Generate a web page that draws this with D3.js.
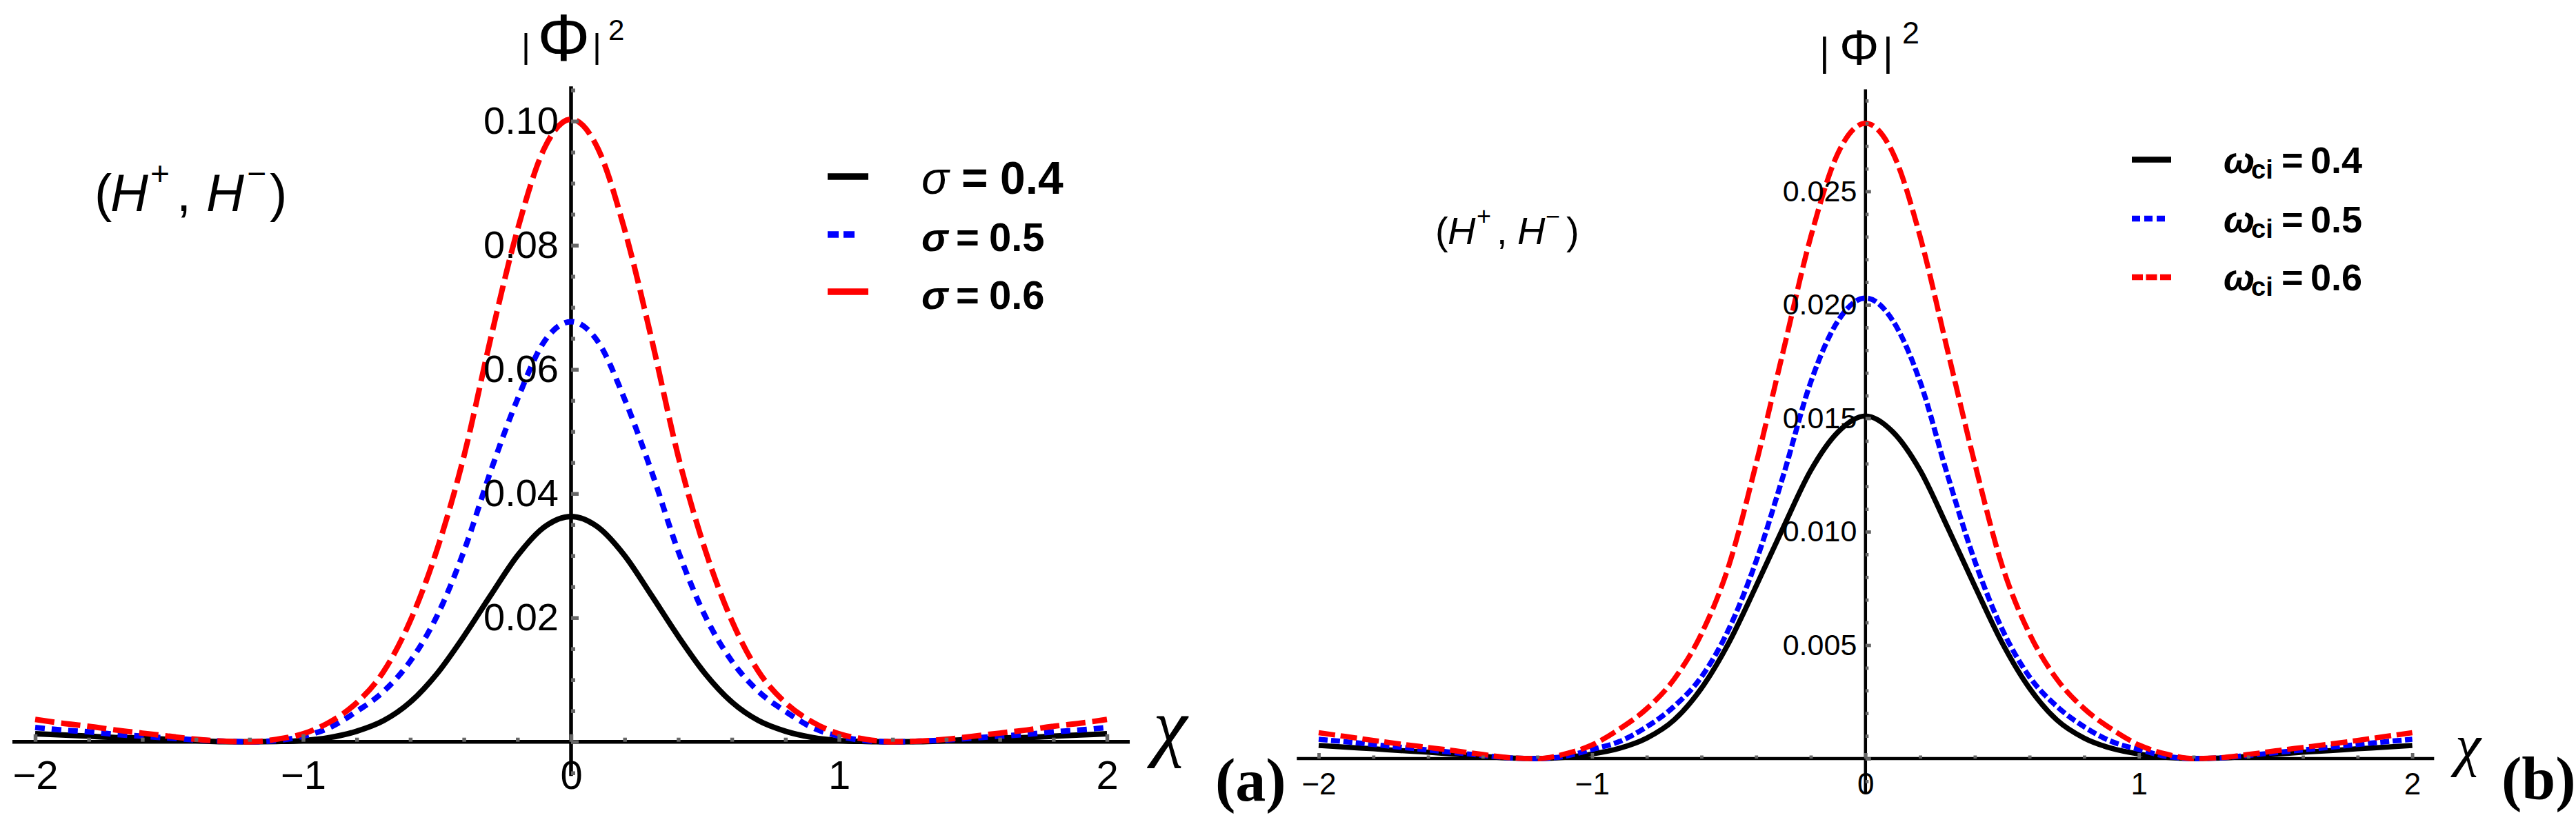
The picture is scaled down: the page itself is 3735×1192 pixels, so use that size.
<!DOCTYPE html>
<html><head><meta charset="utf-8">
<script src="https://cdnjs.cloudflare.com/ajax/libs/d3/7.8.5/d3.min.js"></script>
<style>
html,body{margin:0;padding:0;background:#fff;}
svg{display:block;}
</style></head>
<body><svg id="chart" width="3735" height="1192"></svg>
<script>
// ---------- data ----------
const xGrid = [-2.0,-1.9,-1.8,-1.7,-1.6,-1.5,-1.4,-1.3,-1.2,-1.1,-1.0,-0.9,-0.8,-0.7,-0.6,-0.5,-0.4,-0.3,-0.2,-0.1,0,
               0.1,0.2,0.3,0.4,0.5,0.6,0.7,0.8,0.9,1.0,1.1,1.2,1.3,1.4,1.5,1.6,1.7,1.8,1.9,2.0];

// panel (a): sigma series
const sigmaLabels = ["0.4","0.5","0.6"];
const sigma04 = [0.0013,0.0011,0.0009,0.0007,0.0006,0.0004,0.0002,0.00003,0.0000,0.00005,0.0002,0.0007,0.0017,0.0034,0.0064,0.0110,0.0170,0.0236,0.0300,0.0346,0.0363,
                 0.0346,0.0300,0.0236,0.0170,0.0110,0.0064,0.0034,0.0017,0.0007,0.0002,0.00005,0.0000,0.00003,0.0002,0.0004,0.0006,0.0007,0.0009,0.0011,0.0013];
const sigma05 = [0.0023,0.0019,0.0016,0.0012,0.0009,0.0006,0.0003,0.0001,0.0000,0.0002,0.0009,0.0023,0.0049,0.0081,0.0130,0.0203,0.0307,0.0436,0.0552,0.0645,0.0677,
                 0.0645,0.0552,0.0436,0.0307,0.0203,0.0130,0.0081,0.0049,0.0023,0.0009,0.0002,0.0000,0.0001,0.0003,0.0006,0.0009,0.0012,0.0016,0.0019,0.0023];
const sigma06 = [0.0036,0.0030,0.0025,0.0019,0.0014,0.0009,0.0004,0.0001,0.0000,0.0004,0.0013,0.0032,0.0063,0.0113,0.0195,0.0310,0.0460,0.0650,0.0825,0.0956,0.1003,
                 0.0956,0.0825,0.0650,0.0460,0.0310,0.0195,0.0113,0.0063,0.0032,0.0013,0.0004,0.0000,0.0001,0.0004,0.0009,0.0014,0.0019,0.0025,0.0030,0.0036];

// panel (b): omega_ci series
const omegaLabels = ["0.4","0.5","0.6"];
const omega04 = [0.00058,0.00050,0.00043,0.00035,0.00028,0.00019,0.00010,0.00002,0.0000,0.00005,0.0002,0.00045,0.0009,0.0017,0.0031,0.0051,0.0076,0.0102,0.0127,0.0144,0.0151,
                 0.0144,0.0127,0.0102,0.0076,0.0051,0.0031,0.0017,0.0009,0.00045,0.0002,0.00005,0.0000,0.00002,0.00010,0.00019,0.00028,0.00035,0.00043,0.00050,0.00058];
const omega05 = [0.00085,0.00074,0.00062,0.00050,0.00038,0.00026,0.00014,0.00003,0.0000,0.0001,0.0004,0.00075,0.0014,0.0023,0.0036,0.0057,0.0087,0.0125,0.0166,0.0193,0.0203,
                 0.0193,0.0166,0.0125,0.0087,0.0057,0.0036,0.0023,0.0014,0.00075,0.0004,0.0001,0.0000,0.00003,0.00014,0.00026,0.00038,0.00050,0.00062,0.00074,0.00085];
const omega06 = [0.00114,0.00097,0.00080,0.00064,0.00049,0.00034,0.00018,0.00004,0.0000,0.0002,0.0006,0.0013,0.0022,0.0035,0.0055,0.0085,0.0130,0.0180,0.0230,0.0267,0.0280,
                 0.0267,0.0230,0.0180,0.0130,0.0085,0.0055,0.0035,0.0022,0.0013,0.0006,0.0002,0.0000,0.00004,0.00018,0.00034,0.00049,0.00064,0.00080,0.00097,0.00114];

const xTicks = [-2,-1,0,1,2];
const yTicksA = [0,0.02,0.04,0.06,0.08,0.10];
const yTicksB = [0,0.005,0.010,0.015,0.020,0.025];

// ---------- drawing ----------
const svg = d3.select("#chart");
svg.append("rect").attr("width",3735).attr("height",1192).attr("fill","#fff");
const SANS = "'Liberation Sans', Arial, sans-serif";
const SERIF = "'Liberation Serif', 'Times New Roman', serif";

function panel(cfg){
  const g = svg.append("g");
  const x = d3.scaleLinear().domain([-2,2]).range(cfg.xRange);
  const y = d3.scaleLinear().domain(cfg.yDom).range(cfg.yRange);
  // axis lines
  g.append("line").attr("x1",x(cfg.xExt[0])).attr("x2",x(cfg.xExt[1]))
    .attr("y1",y(0)).attr("y2",y(0)).attr("stroke","#000").attr("stroke-width",cfg.axisW);
  g.append("line").attr("x1",x(0)).attr("x2",x(0))
    .attr("y1",y(cfg.yExt[0])).attr("y2",y(cfg.yExt[1])).attr("stroke","#000").attr("stroke-width",cfg.axisW);

  // curves
  const line = d3.line().x((d,i)=>x(xGrid[i])).y(d=>y(d)).curve(d3.curveMonotoneX);
  cfg.series.forEach(s=>{
    g.append("path").datum(s.values).attr("d",line).attr("fill","none")
      .attr("stroke",s.color).attr("stroke-width",cfg.lineW)
      .attr("stroke-dasharray",s.dash||null).attr("stroke-linecap","butt");
  });

  // x ticks (minor then major) drawn with d3 axes
  const xMinor = d3.range(-2,2.0001,0.2).map(v=>+v.toFixed(2)).filter(v=>Math.abs(v-Math.round(v))>1e-6);
  const axM = d3.axisBottom(x).tickValues(xMinor).tickSize(-cfg.minorLen).tickFormat("");
  const gxm = g.append("g").attr("transform",`translate(0,${y(0)})`).call(axM);
  const axX = d3.axisBottom(x).tickValues(xTicks).tickSize(-cfg.majorLen).tickPadding(cfg.xPad)
      .tickFormat(d3.format("d"));
  const gx = g.append("g").attr("transform",`translate(0,${y(0)})`).call(axX);
  [gxm,gx].forEach(a=>{a.select(".domain").remove();
    a.selectAll(".tick line").attr("stroke","#666").attr("stroke-width",cfg.tickW);});
  gx.selectAll("text").attr("font-family",SANS).attr("font-size",cfg.xFont).attr("fill","#000");

  // y ticks
  const axYm = d3.axisLeft(y).tickValues(cfg.yMinor).tickSize(-cfg.minorLen).tickFormat("");
  const gym = g.append("g").attr("transform",`translate(${x(0)},0)`).call(axYm);
  const axY = d3.axisLeft(y).tickValues(cfg.yTicks).tickSize(-cfg.majorLen).tickPadding(cfg.yPad)
      .tickFormat(d=> d===0 ? "" : d3.format(cfg.yFmt)(d));
  const gy = g.append("g").attr("transform",`translate(${x(0)},0)`).call(axY);
  [gym,gy].forEach(a=>{a.select(".domain").remove();
    a.selectAll(".tick line").attr("stroke","#666").attr("stroke-width",cfg.tickW);});
  gy.selectAll("text").attr("font-family",SANS).attr("font-size",cfg.yFont).attr("fill","#000");
  return {x,y,g};
}

// Panel (a)
const A = panel({
  xRange:[51,1605], yDom:[0,0.1], yRange:[1075.7,175.7],
  xExt:[-2.085,2.085], yExt:[-0.0055,0.1056],
  axisW:5.5, lineW:8, tickW:5.5, majorLen:11, minorLen:6,
  xPad:27, yPad:18, xFont:58, yFont:56, yFmt:".2f",
  yTicks:yTicksA,
  yMinor:d3.range(-0.005,0.1051,0.005).map(v=>+v.toFixed(3)).filter(v=>Math.abs(v/0.02-Math.round(v/0.02))>1e-6),
  series:[
    {values:sigma04,color:"#000"},
    {values:sigma05,color:"#0000ff",dash:"14,10"},
    {values:sigma06,color:"#ff0000",dash:"28,10"}
  ]
});

// Panel (b)
const B = panel({
  xRange:[1912,3497.6], yDom:[0,0.025], yRange:[1100,277.5],
  xExt:[-2.08,2.08], yExt:[-0.0015,0.0295],
  axisW:4.5, lineW:7.5, tickW:4.8, majorLen:8, minorLen:4.5,
  xPad:21, yPad:12.5, xFont:44, yFont:43, yFmt:".3f",
  yTicks:yTicksB,
  yMinor:d3.range(-0.001,0.0291,0.001).map(v=>+v.toFixed(4)).filter(v=>Math.abs(v/0.005-Math.round(v/0.005))>1e-6),
  series:[
    {values:omega04,color:"#000"},
    {values:omega05,color:"#0000ff",dash:"13,5"},
    {values:omega06,color:"#ff0000",dash:"24,8"}
  ]
});

// ---------- y-axis titles |Φ|² ----------
function phiLabel(p){
  const t = svg.append("g").attr("font-family",SANS).attr("fill","#000");
  t.append("text").attr("x",p.b1x).attr("y",p.barBase).attr("font-size",p.barF).text("|");
  t.append("text").attr("x",p.phx).attr("y",p.phBase).attr("font-size",p.phF).text("Φ");
  t.append("text").attr("x",p.b2x).attr("y",p.barBase).attr("font-size",p.barF).text("|");
  t.append("text").attr("x",p.sx).attr("y",p.sBase).attr("font-size",p.sF).text("2");
}
phiLabel({b1x:756,b2x:859,barBase:84,barF:50,phx:779,phBase:88,phF:96,sx:882,sBase:58,sF:42});
phiLabel({b1x:2638,b2x:2730,barBase:95,barF:57,phx:2667,phBase:94,phF:72,sx:2758,sBase:63,sF:45});

// ---------- (H+, H−) annotations ----------
function hLabel(p){
  const t = svg.append("text").attr("font-family",SANS).attr("font-size",p.f).attr("fill","#000").attr("y",p.base);
  t.append("tspan").attr("x",p.xs[0]).text("(");
  t.append("tspan").attr("x",p.xs[1]).attr("font-style","italic").text("H");
  t.append("tspan").attr("x",p.xs[2]).attr("y",p.base-p.sup).attr("font-size",p.sf).text("+");
  t.append("tspan").attr("x",p.xs[3]).attr("y",p.base).text(",");
  t.append("tspan").attr("x",p.xs[4]).attr("font-style","italic").text("H");
  t.append("tspan").attr("x",p.xs[5]).attr("y",p.base-p.sup).attr("font-size",p.sf).text("−");
  t.append("tspan").attr("x",p.xs[6]).attr("y",p.base).text(")");
}
hLabel({f:76,sf:48,sup:38,base:306,xs:[137,160,218,256,299,358,391]});
hLabel({f:56,sf:36,sup:28,base:354,xs:[2081,2099,2141,2170,2200,2241,2271]});

// ---------- x-axis symbols and panel tags ----------
svg.append("text").attr("x",1672).attr("y",1090).attr("font-family",SERIF).attr("font-style","italic")
  .attr("font-size",112).text("χ");
svg.append("text").attr("x",1762).attr("y",1161).attr("font-family",SERIF).attr("font-weight","bold")
  .attr("font-size",88).text("(a)");
svg.append("text").attr("x",3560).attr("y",1109).attr("font-family",SERIF).attr("font-style","italic")
  .attr("font-size",84).text("χ");
svg.append("text").attr("x",3627).attr("y",1159).attr("font-family",SERIF).attr("font-weight","bold")
  .attr("font-size",88).text("(b)");

// ---------- legends ----------
const legA = [
  {c:"#000",dash:null,x2:1259,y:256,base:281,f:66,lab:sigmaLabels[0],sw:"normal",xs:[1336,1394,1450]},
  {c:"#0000ff",dash:"16,7",x2:1240,y:340,base:364,f:58,lab:sigmaLabels[1],sw:"bold",xs:[1336,1386,1434]},
  {c:"#ff0000",dash:null,x2:1259,y:423,base:448,f:58,lab:sigmaLabels[2],sw:"bold",xs:[1336,1386,1434]}
];
legA.forEach(d=>{
  svg.append("line").attr("x1",1200).attr("x2",d.x2).attr("y1",d.y).attr("y2",d.y)
    .attr("stroke",d.c).attr("stroke-width",9.6).attr("stroke-dasharray",d.dash);
  const t = svg.append("text").attr("font-family",SANS).attr("font-weight","bold").attr("font-size",d.f).attr("y",d.base);
  t.append("tspan").attr("x",d.xs[0]).attr("font-style","italic").attr("font-weight",d.sw).text("σ");
  t.append("tspan").attr("x",d.xs[1]).text("=");
  t.append("tspan").attr("x",d.xs[2]).text(d.lab);
});
const legB = [
  {c:"#000",dash:null,x2:3148,y:231.5,base:251,lab:omegaLabels[0]},
  {c:"#0000ff",dash:"12,6",x2:3139,y:317,base:337,lab:omegaLabels[1]},
  {c:"#ff0000",dash:"16,4.5",x2:3148,y:402,base:421,lab:omegaLabels[2]}
];
legB.forEach(d=>{
  svg.append("line").attr("x1",3091).attr("x2",d.x2).attr("y1",d.y).attr("y2",d.y)
    .attr("stroke",d.c).attr("stroke-width",8.4).attr("stroke-dasharray",d.dash);
  const t = svg.append("text").attr("font-family",SANS).attr("font-weight","bold").attr("font-size",54).attr("y",d.base);
  t.append("tspan").attr("x",3224).attr("font-style","italic").text("ω");
  t.append("tspan").attr("x",3264).attr("y",d.base+8).attr("font-size",38).text("ci");
  t.append("tspan").attr("x",3308).attr("y",d.base).text("=");
  t.append("tspan").attr("x",3350).text(d.lab);
});
</script>
</body></html>
